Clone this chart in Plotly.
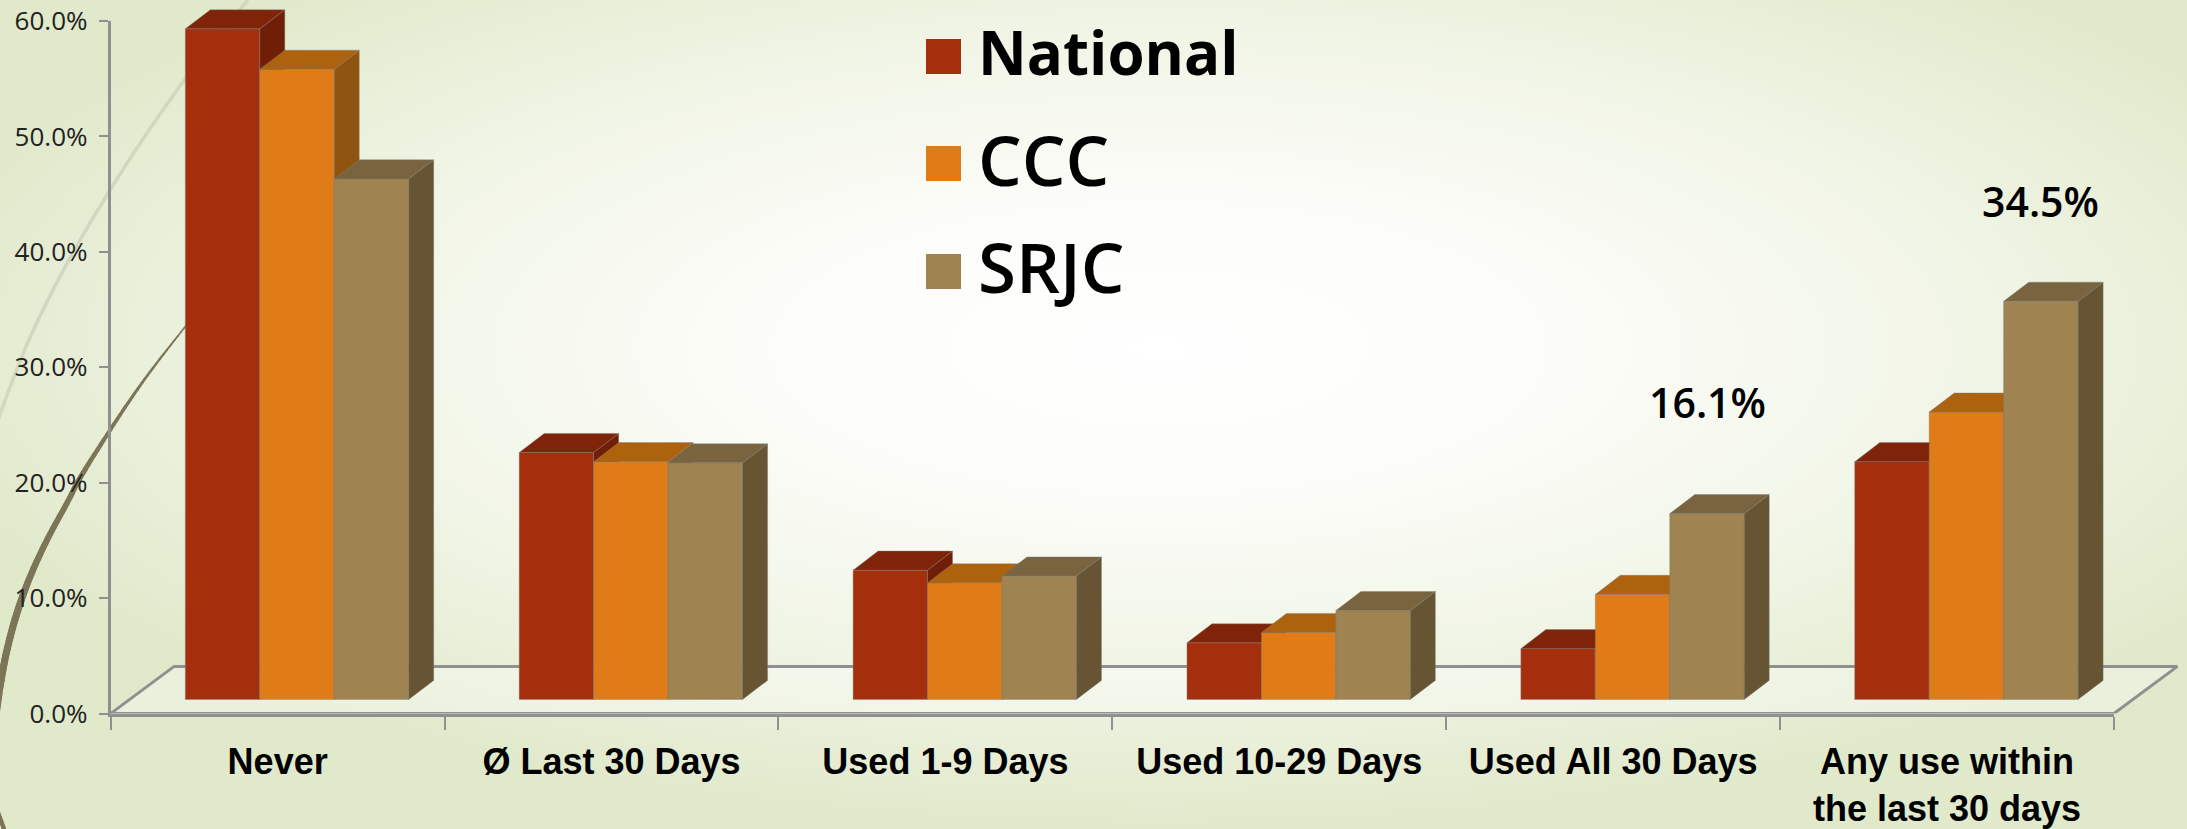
import base64
import plotly.graph_objects as go

# ---- data ----
categories = ["Never", "Ø Last 30 Days", "Used 1-9 Days", "Used 10-29 Days", "Used All 30 Days",
              "Any use within<br>the last 30 days"]
national = [58.1, 21.4, 11.2, 4.9, 4.4, 20.6]
ccc = [54.6, 20.6, 10.1, 5.8, 9.1, 24.9]
srjc = [45.1, 20.5, 10.7, 7.7, 16.1, 34.5]
y_ticks = [0, 10, 20, 30, 40, 50, 60]
y_labels = ["0.0%", "10.0%", "20.0%", "30.0%", "40.0%", "50.0%", "60.0%"]
callout_index = [4, 5]
callout_text = ["16.1%", "34.5%"]
callout_shift = [112, 100]

series = [
    ("National", national, "#A52F0D", "#701E08", "#7F2408"),
    ("CCC", ccc, "#DF7C17", "#8F5510", "#AD630E"),
    ("SRJC", srjc, "#9F8350", "#665433", "#7A6440"),
]
legend_weight = [700, 600, 600]
legend_size = [60, 69, 69]

W, H = 2187, 829
LEFT, RIGHT, TOP, BOTTOM = 110.7, 2114.0, 21.0, 713.5
BAR_W = 0.223
BAR_START = 0.2235
BASE = 1.22
DX, DY = 0.0749, 1.65
FLOOR_DX, FLOOR_DY = 0.19, 4.08
N = len(categories)
OUTLINE = "rgba(125,125,125,0.4)"
PX_X = (RIGHT - LEFT) / N
PX_Y = (BOTTOM - TOP) / 60
FONT = "Open Sans"

# decorative background swirls (page art, not data)
dark = [(188, 323, 1.5), (150, 372, 2.5), (120, 415, 3.5), (83, 473, 5), (67, 503, 5.5),
        (47, 540, 6), (30, 577, 6.5), (17, 613, 7), (7, 650, 7), (0, 687, 7), (-6, 730, 7)]
dark2 = [(-3, 810, 4), (0, 818, 4), (4, 829, 4), (8, 840, 4)]
def smooth(pts, k=12):
    out = []
    p = [pts[0]] + list(pts) + [pts[-1]]
    for i in range(1, len(p) - 2):
        for j in range(k):
            t = j / k
            out.append(tuple(
                0.5 * (2 * p[i][c] + (p[i + 1][c] - p[i - 1][c]) * t
                       + (2 * p[i - 1][c] - 5 * p[i][c] + 4 * p[i + 1][c] - p[i + 2][c]) * t * t
                       + (3 * p[i][c] - p[i - 1][c] - 3 * p[i + 1][c] + p[i + 2][c]) * t ** 3)
                for c in range(3)))
    out.append(p[-2])
    return out
def segs(pts):
    s = smooth(pts)
    return "".join(
        f'<line x1="{a[0]:.1f}" y1="{a[1]:.1f}" x2="{b[0]:.1f}" y2="{b[1]:.1f}" stroke-width="{(a[2]+b[2])/2:.1f}" '
        f'stroke="#7d7558" stroke-linecap="round"/>' for a, b in zip(s, s[1:]))
svg = f'''<svg xmlns="http://www.w3.org/2000/svg" width="{W}" height="{H}" viewBox="0 0 {W} {H}">
<defs><radialGradient id="g" cx="0.53" cy="0.42" r="0.58">
<stop offset="0" stop-color="#ffffff"/><stop offset="0.3" stop-color="#fcfdf9"/>
<stop offset="0.65" stop-color="#f1f5e6"/><stop offset="1" stop-color="#e1e9cb"/>
</radialGradient></defs>
<rect width="{W}" height="{H}" fill="url(#g)"/>
<path d="M248 0 Q180 78 110 190 Q60 270 27 344 Q12 380 -2 420" fill="none" stroke="#d2d8c0" stroke-width="3.5"/>
{segs(dark)}{segs(dark2)}
</svg>'''
bg = "data:image/svg+xml;base64," + base64.b64encode(svg.encode()).decode()

fig = go.Figure()

# Base axes only carry the visible axis lines, ticks and labels
fig.add_trace(go.Scatter(x=[i + 0.5 for i in range(N)], y=[0] * N, mode="none",
                         hoverinfo="skip", showlegend=False, xaxis="x", yaxis="y"))

# Wider drawing axes on the same scale, so the 3D faces can pass the axis ends
fig.add_trace(go.Scatter(
    x=[0, FLOOR_DX, N + FLOOR_DX, N, 0], y=[0, FLOOR_DY, FLOOR_DY, 0, 0],
    mode="lines", fill="toself", fillcolor="rgba(255,255,255,0.35)",
    line=dict(color="#909090", width=3), hoverinfo="skip", showlegend=False,
    xaxis="x2", yaxis="y2"))

for s, (name, vals, front, side, top) in enumerate(series):
    ax = s + 3
    off = BAR_START + s * BAR_W
    sx, sy, tx, ty = [], [], [], []
    for i, v in enumerate(vals):
        l, r = i + off, i + off + BAR_W
        t = v + BASE
        sx += [r, r + DX, r + DX, r, r, None]
        sy += [BASE, BASE + DY, t + DY, t, BASE, None]
        tx += [l, r, r + DX, l + DX, l, None]
        ty += [t, t, t + DY, t + DY, t, None]
    fig.add_trace(go.Bar(
        x=list(range(N)), y=vals, base=BASE, offset=off, width=BAR_W, name=name,
        marker=dict(color=front, line=dict(color=OUTLINE, width=1)),
        xaxis=f"x{ax}", yaxis=f"y{ax}", showlegend=False))
    for px, py, col in ((sx, sy, side), (tx, ty, top)):
        fig.add_trace(go.Scatter(
            x=px, y=py, mode="lines", fill="toself", fillcolor=col,
            line=dict(color=OUTLINE, width=1), hoverinfo="skip", showlegend=False,
            xaxis=f"x{ax}", yaxis=f"y{ax}"))

x_wide = [0, (W - LEFT) / PX_X]
y_wide = [0, BOTTOM / PX_Y]
layout_axes = {
    "xaxis2": dict(domain=[LEFT / W, 1], range=x_wide, visible=False, anchor="y2", automargin=False),
    "yaxis2": dict(domain=[1 - BOTTOM / H, 1], range=y_wide, visible=False, anchor="x2", automargin=False),
}
for ax in (3, 4, 5):
    layout_axes[f"xaxis{ax}"] = dict(overlaying="x2", range=x_wide, visible=False, anchor=f"y{ax}", automargin=False)
    layout_axes[f"yaxis{ax}"] = dict(overlaying="y2", range=y_wide, visible=False, anchor=f"x{ax}", automargin=False)

annotations = []
for idx, text, shift in zip(callout_index, callout_text, callout_shift):
    annotations.append(dict(
        x=idx + BAR_START + 2.5 * BAR_W, y=srjc[idx] + BASE, text=text, showarrow=False,
        yshift=shift, font=dict(family=FONT, size=41, color="#000", weight=600), xref="x", yref="y"))

shapes = []
for (name, vals, front, side, top), y0, yc, wt, sz in zip(series, (39, 146, 254), (52, 159, 266), legend_weight, legend_size):
    shapes.append(dict(type="rect", xref="paper", yref="paper", x0=926 / W, x1=961 / W,
                       y0=1 - y0 / H, y1=1 - (y0 + 35) / H, fillcolor=front, line_width=0))
    annotations.append(dict(xref="paper", yref="paper", x=976 / W, y=1 - yc / H, text=name,
                            xanchor="left", yanchor="middle", showarrow=False,
                            font=dict(family=FONT, size=sz, color="#000", weight=wt)))

fig.update_layout(
    width=W, height=H, autosize=False,
    margin=dict(l=0, r=0, t=0, b=0),
    paper_bgcolor="#f4f7ea", plot_bgcolor="rgba(0,0,0,0)",
    barmode="overlay", showlegend=False,
    font=dict(family=FONT, color="#222"),
    images=[dict(source=bg, xref="paper", yref="paper", x=0, y=1, sizex=1, sizey=1,
                 sizing="stretch", layer="below", xanchor="left", yanchor="top")],
    xaxis=dict(domain=[LEFT / W, RIGHT / W], range=[0, N], showgrid=False, zeroline=False,
               showline=True, linecolor="#909090", linewidth=3, automargin=False,
               tickmode="array", tickvals=[i + 0.5 for i in range(N)], ticktext=categories,
               ticks="outside", ticklen=0, ticklabelstandoff=14,
               tickfont=dict(family="Liberation Sans", size=36, color="#000", weight="bold"),
               minor=dict(tickmode="array", tickvals=list(range(N + 1)), ticks="outside",
                          ticklen=13, tickcolor="#909090", tickwidth=2, showgrid=False)),
    yaxis=dict(domain=[1 - BOTTOM / H, 1 - TOP / H], range=[0, 60], showgrid=False, zeroline=False,
               showline=True, linecolor="#909090", linewidth=3, automargin=False,
               tickmode="array", tickvals=y_ticks, ticktext=y_labels,
               ticks="outside", ticklen=9, tickcolor="#909090", tickwidth=2,
               ticklabelstandoff=6,
               tickfont=dict(family=FONT, size=26, color="#222")),
    annotations=annotations, shapes=shapes,
    **layout_axes,
)

fig.write_html("out.html", config={"displayModeBar": False},
               post_script="document.body.style.margin='0';document.documentElement.style.overflow='hidden';")
